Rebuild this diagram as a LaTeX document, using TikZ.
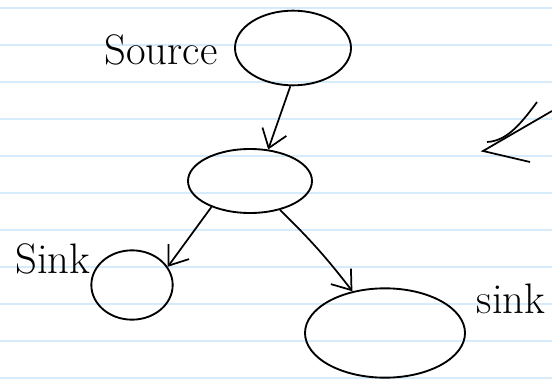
\documentclass[tikz,border=0pt]{standalone}
\usetikzlibrary{shapes.geometric,arrows.meta}
\definecolor{ruleline}{RGB}{214,236,250}

\begin{document}
\begin{tikzpicture}[x=0.75pt,y=0.75pt,yscale=-1,
  blob/.style={draw, ellipse, line width=1.4pt, inner sep=0pt},
  flow/.style={line width=1.3pt, -{Straight Barb[length=13pt,width=19pt]}},
  hand/.style={font=\fontsize{32}{34}\selectfont}]
\useasboundingbox (0,0) rectangle (552,381);

%Ruled paper
\foreach \k in {0,...,10}
  \draw [ruleline, line width=0.9pt] (0,8+37*\k) -- (552,8+37*\k);

%Shape: Ellipse
\node (src) [blob, minimum width=87pt, minimum height=56pt] at (293,48) {};
%Shape: Ellipse
\node (mid) [blob, minimum width=93pt, minimum height=48pt] at (250,181) {};
%Shape: Ellipse
\node (sinkL) [blob, minimum width=61pt, minimum height=52pt] at (132,285) {};
%Shape: Ellipse
\node (sinkR) [blob, minimum width=120pt, minimum height=67pt] at (385,333) {};

%Straight Lines
\draw [flow] (src.-94) -- (mid.60);
\draw [flow] (mid.-146) -- (sinkL.27);
%Curve Lines
\draw [flow] (mid.-44) to[bend right=4] (sinkR.128);

%Arrow cut by the right edge
\coordinate (offEdge) at (552,111);
\coordinate (offTip) at (483,151);
\coordinate (offBarb) at (530,162);
\coordinate (offTop) at (537,102);
\draw [line width=1.3pt] (offEdge) -- (offTip) -- (offBarb);
\draw [line width=1.3pt] (offTop) .. controls (518,128) and (505,141) .. (487,142);

% Text Node
\node (lblSrc) [hand] at (161,50) {Source};
% Text Node
\node (lblSinkL) [hand] at (53,259) {Sink};
% Text Node
\node (lblSinkR) [hand] at (511,299) {sink};

\end{tikzpicture}
\end{document}
